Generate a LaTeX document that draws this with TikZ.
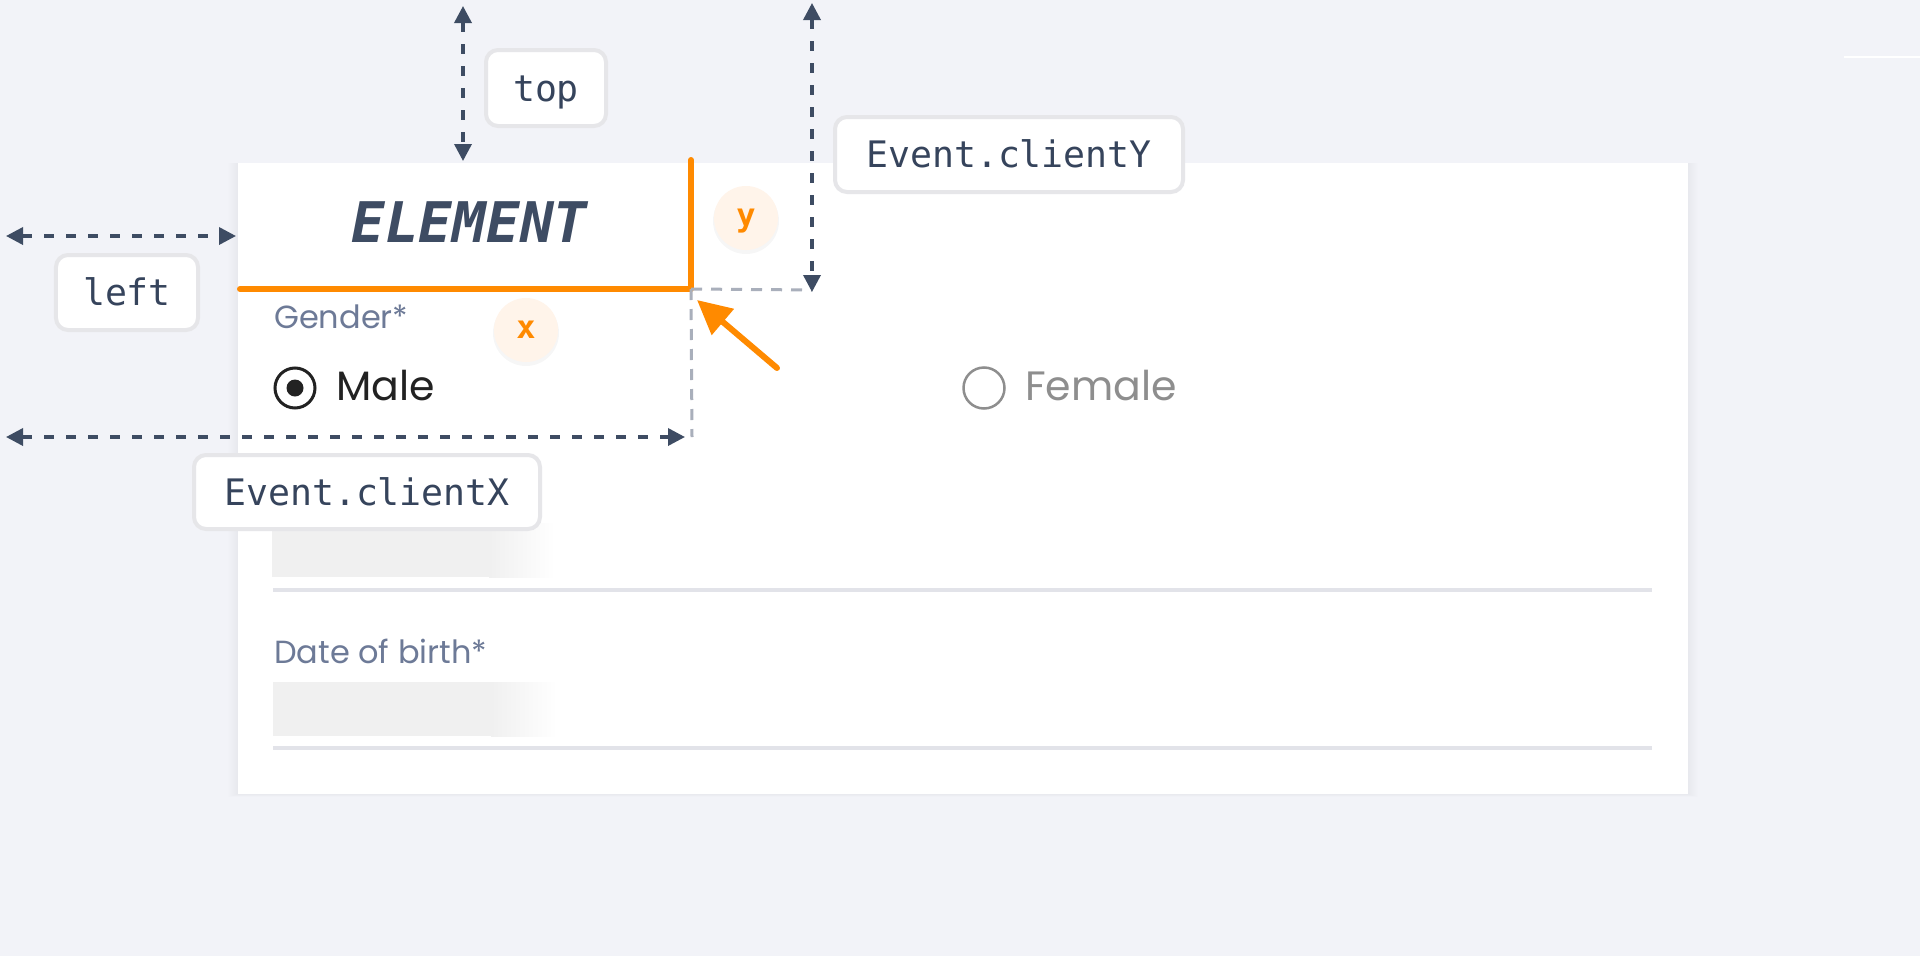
\documentclass[tikz,border=0pt]{standalone}
\usepackage{fontspec}
\usetikzlibrary{arrows.meta}
\newfontfamily\monof{DejaVu Sans Mono}
\newfontfamily\popf{Poppins}
\definecolor{bg}{HTML}{F2F3F8}
\definecolor{ink}{HTML}{3E4C63}
\definecolor{txt}{HTML}{36445C}
\definecolor{orng}{HTML}{FF8A00}
\definecolor{bubblec}{HTML}{FFF4EA}
\definecolor{lblborder}{HTML}{E6E6E9}
\definecolor{guidec}{HTML}{A9AFBB}
\definecolor{labelc}{HTML}{6D7A97}
\definecolor{barc}{HTML}{F0F0F0}
\definecolor{divc}{HTML}{E2E3E9}
\definecolor{femc}{HTML}{8E8E8E}
\definecolor{malec}{HTML}{222222}
\tikzset{
  tagbox/.style={draw=lblborder, line width=4bp, fill=white, rounded corners=12bp,
    inner sep=0pt, text=txt, font=\monof\fontsize{36.5bp}{40bp}\selectfont,
    text height=26bp, text depth=0bp},
  dimline/.style={draw=ink, line width=3.5bp, dash pattern=on 10bp off 12bp,
    arrows={Triangle[length=17bp,width=17bp]-Triangle[length=17bp,width=17bp]}},
  guideline/.style={draw=guidec, line width=3bp, dash pattern=on 11bp off 9bp},
  bubble/.style={circle, fill=bubblec, minimum size=64bp, inner sep=0pt, text=orng,
    font=\monof\bfseries\fontsize{32bp}{36bp}\selectfont, text height=17bp, text depth=0bp},
  formtext/.style={anchor=base west, inner sep=0pt},
}
\begin{document}
\begin{tikzpicture}[x=1bp,y=-1bp]
% background
\fill[bg] (0,0) rectangle (1920,956);
\useasboundingbox (0,0) rectangle (1920,956);
\draw[white, line width=2bp] (1844,57) -- (1920,57);
% card shadow and card
\foreach \i in {1,...,10}
  \fill[black, opacity=0.005] (237.5-\i,163) rectangle (1687.5+\i,794+0.3*\i);
\fill[white] (237.5,163) rectangle (1687.5,794);
% placeholder bars
\fill[barc] (272,523) rectangle (490,577);
\shade[left color=barc, right color=white] (489,523) rectangle (555,577);
\fill[barc] (273,682) rectangle (492,736);
\shade[left color=barc, right color=white] (491,682) rectangle (557,736);
% dividers
\fill[divc] (273,588) rectangle (1652,592);
\fill[divc] (273,746) rectangle (1652,750);
% form texts
\node[formtext, text=labelc, font=\popf\fontsize{32bp}{38bp}\selectfont] (gender) at (274,328) {Gender*};
\node[formtext, text=labelc, font=\popf\fontsize{32bp}{38bp}\selectfont] (dob) at (274,663) {Date of birth*};
\node[circle, draw=malec, line width=3bp, minimum size=40bp, inner sep=0pt] (maleR) at (295,388) {};
\node[circle, fill=malec, minimum size=17bp, inner sep=0pt] (maleDot) at (295,388) {};
\node[formtext, text=malec, font=\popf\fontsize{41bp}{46bp}\selectfont] (male) at (336,400) {Male};
\node[circle, draw=femc, line width=2.5bp, minimum size=41bp, inner sep=0pt] (femR) at (984,388) {};
\node[formtext, text=femc, font=\popf\fontsize{41bp}{46bp}\selectfont] (female) at (1025,400) {Female};
% element header
\node[inner sep=0pt, text=ink, font=\monof\bfseries\itshape\fontsize{56bp}{60bp}\selectfont,
  text height=41bp, text depth=0bp] (elem) at (469.5,222) {ELEMENT};
\coordinate (ocTop) at (691,160);
\coordinate (ocCorner) at (691,289);
\coordinate (ocLeft) at (240,289);
\draw[orng, line width=6bp, line cap=round, line join=round] (ocTop) -- (ocCorner) -- (ocLeft);
% guides
\coordinate (gH) at (812,290);
\coordinate (gV) at (692,437);
\draw[guideline] (ocCorner) -- (gH);
\draw[guideline] (ocCorner) -- (gV);
% dimension arrows
\coordinate (topA) at (463,6);
\coordinate (topB) at (463,161);
\coordinate (cyA) at (812,3);
\coordinate (cyB) at (812,292);
\coordinate (leftA) at (6,236);
\coordinate (leftB) at (236,236);
\coordinate (cxA) at (6,437);
\coordinate (cxB) at (685,437);
\draw[dimline] (topA) -- (topB);
\draw[dimline] (cyA) -- (cyB);
\draw[dimline] (leftA) -- (leftB);
\draw[dimline] (cxA) -- (cxB);
% labels
\node[tagbox, minimum width=120bp, minimum height=76bp] (tTop) at (546,88) {top};
\node[tagbox, minimum width=142bp, minimum height=75bp] (tLeft) at (127,292.5) {left};
\node[tagbox, minimum width=348bp, minimum height=75bp] (tCY) at (1009,154.5) {Event.clientY};
\node[tagbox, minimum width=346bp, minimum height=74bp] (tCX) at (367,492) {Event.clientX};
% bubbles
\fill[black, opacity=0.035] (746,221) circle (33bp);
\fill[black, opacity=0.035] (526,333) circle (33bp);
\node[bubble] (by) at (746,218) {y};
\node[bubble] (bx) at (526,330) {x};
% pointer arrow
\coordinate (oaTail) at (777,368);
\coordinate (oaTip) at (697,300);
\draw[orng, line width=6bp, line cap=round, -{Triangle[length=34bp,width=33bp]}] (oaTail) -- (oaTip);
\end{tikzpicture}
\end{document}
